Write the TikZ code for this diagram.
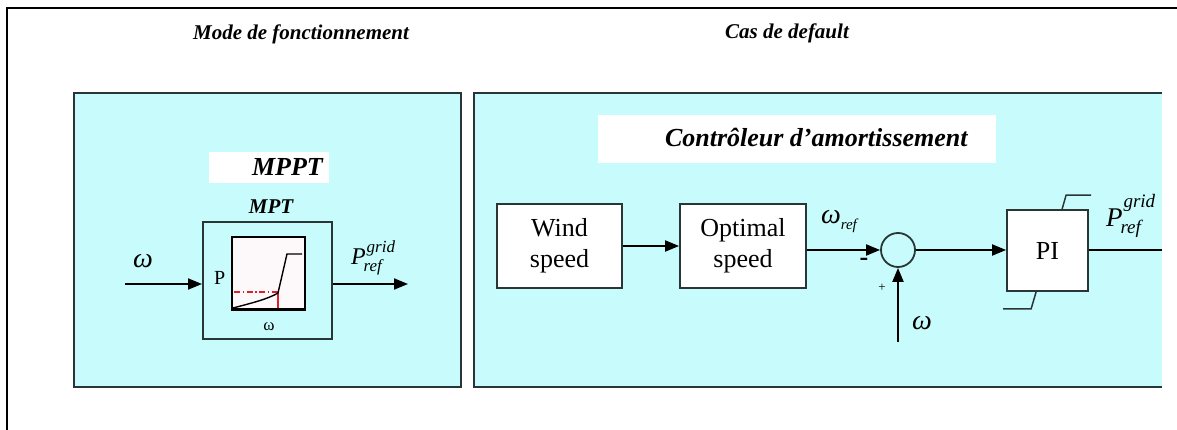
\documentclass[tikz,border=0pt]{standalone}
\usepackage{fontspec}
\setmainfont{Liberation Serif}
\usetikzlibrary{arrows.meta}
\definecolor{panelcyan}{RGB}{200,252,252}
\definecolor{edgegray}{RGB}{42,54,54}
\definecolor{curvered}{RGB}{222,32,42}
\definecolor{graphbg}{RGB}{253,249,250}
\newcommand\PGR[6]{{\fontsize{#1}{#1}\selectfont\itshape P\kern#3\rlap{\raisebox{#4}{\fontsize{#2}{#2}\selectfont grid}}\kern#6\raisebox{-#5}{\fontsize{#2}{#2}\selectfont ref}}}
\begin{document}
\begin{tikzpicture}[x=1pt,y=-1pt,
  txt/.style={inner sep=0pt, outer sep=0pt},
  title/.style={txt, font=\fontsize{21}{21}\selectfont\bfseries\itshape},
  blk/.style={draw=edgegray, line width=1.8pt, fill=white, inner sep=0pt,
              font=\fontsize{26}{31}\selectfont, align=center},
  sig/.style={line width=2pt, -{Triangle[length=14pt,width=11pt]}},
  wire/.style={line width=2pt},
  panelline/.style={draw=edgegray, line width=1.6pt}]
\useasboundingbox (0,0) rectangle (1177,430);
% outer frame
\draw[line width=2pt] (7,430) -- (7,8) -- (1177,8);
% titles
\node[title, anchor=base] (t1) at (301,40) {Mode de fonctionnement};
\node[title, anchor=base] (t2) at (787,39) {Cas de default};
% left panel
\fill[panelcyan] (74,93) rectangle (461,387);
\draw[panelline] (74,93) rectangle (461,387);
% right panel
\fill[panelcyan] (474,93) rectangle (1162,387);
\draw[panelline] (1162,93) -- (474,93) -- (474,387) -- (1162,387);
% ---------- left panel content ----------
\fill[white] (209,152) rectangle (329,183);
\node[txt, anchor=base west, font=\fontsize{26}{26}\selectfont\bfseries\itshape] (mppt) at (252,176) {MPPT};
\node[txt, anchor=base, font=\fontsize{21}{21}\selectfont\bfseries\itshape] (mptl) at (271,214) {MPT};
\node[draw=edgegray, line width=2pt, minimum width=129pt, minimum height=117pt, inner sep=0pt] (mpt) at (267.5,280.5) {};
\node[draw=black, line width=2.4pt, fill=graphbg, minimum width=73pt, minimum height=72pt, inner sep=0pt] (graph) at (268.5,273) {};
\draw[curvered, line width=1.3pt, dash pattern=on 6pt off 2.5pt on 1.5pt off 2.5pt] (234,292) -- (278,292);
\draw[curvered, line width=1.3pt] (278,292) -- (278,308);
\draw[line width=1.4pt] (233,308) .. controls (252,303) and (268,299) .. (278,293) -- (287,254) -- (302,254);
\draw[black, line width=2.4pt] (graph.south west) -- (graph.south east);
\node[txt, anchor=base west, font=\fontsize{20}{20}\selectfont] (pl) at (214,284) {P};
\node[txt, anchor=base, font=\fontsize{17}{17}\selectfont] (wl) at (269,330) {ω};
\coordinate (win) at (125,284);
\coordinate (wout) at (408,284);
\draw[sig] (win) -- (win -| mpt.west);
\draw[sig] (win -| mpt.east) -- (wout);
\node[txt, anchor=base west, font=\fontsize{28}{28}\selectfont\itshape] (wlab) at (133,268) {ω};
\node[txt, anchor=base west] (plab) at (351,265) {\PGR{24pt}{17pt}{1pt}{13pt}{7pt}{-3pt}};
% ---------- right panel content ----------
\fill[white] (598,115) rectangle (996,163);
\node[txt, anchor=base west, font=\fontsize{26}{26}\selectfont\bfseries\itshape] (ctl) at (665,147) {Contrôleur d’amortissement};
\node[blk, minimum width=125pt, minimum height=84pt] (wind) at (559.5,246) {Wind\\speed};
\node[blk, minimum width=126pt, minimum height=84pt] (opt) at (743,246) {Optimal\\speed};
\node[circle, draw=edgegray, line width=1.8pt, fill=panelcyan, minimum size=34pt, inner sep=0pt] (sum) at (898,250) {};
\node[blk, minimum width=81pt, minimum height=81pt, font=\fontsize{26}{26}\selectfont] (pi) at (1047.5,250.5) {PI};
\draw[sig] (wind) -- (opt);
\draw[sig] (opt.east |- sum) -- (sum.west);
\draw[sig] (sum.east) -- (pi.west |- sum);
\coordinate (wbot) at (898,342);
\draw[sig] (wbot) -- (sum.south);
\coordinate (outR) at (1162,250);
\draw[wire] (pi.east |- outR) -- (outR);
\draw[line width=1.5pt, edgegray] ([xshift=56pt]pi.north west) -- ++(4,-14) -- ++(25,0);
\draw[line width=1.5pt, edgegray] ([xshift=30pt]pi.south west) -- ++(-5,17) -- ++(-28,0);
\node[txt, anchor=base west, font=\fontsize{28}{28}\selectfont\itshape] (wref) at (821,224) {ω\raisebox{-6pt}{\fontsize{15}{15}\selectfont ref}};
\node[txt, anchor=base west, font=\fontsize{28}{28}\selectfont\itshape] (wb) at (912,329) {ω};
\node[txt, anchor=center, font=\fontsize{26}{26}\selectfont\bfseries] (minus) at (864,262) {-};
\node[txt, anchor=center, font=\fontsize{13}{13}\selectfont] (plus) at (882,288) {+};
\begin{scope}
\clip (474,93) rectangle (1162,387);
\node[txt, anchor=base west] (prr) at (1106,227) {\PGR{27pt}{19pt}{1pt}{19pt}{6pt}{-3pt}};
\end{scope}
\end{tikzpicture}
\end{document}
